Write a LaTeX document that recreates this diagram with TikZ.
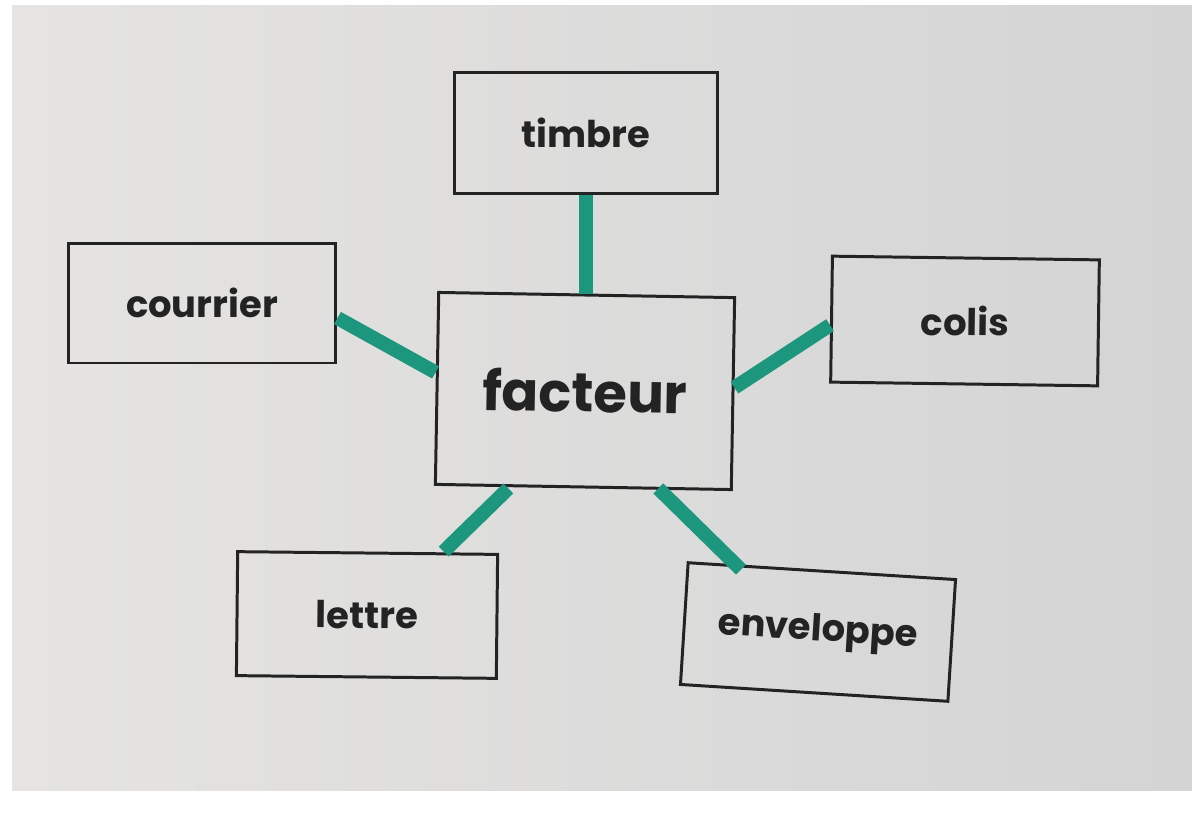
\documentclass[tikz,border=0pt]{standalone}
\usepackage{fontspec}
\setmainfont{Poppins}
\definecolor{linkteal}{RGB}{28,150,124}
\definecolor{paperlight}{RGB}{229,228,226}
\definecolor{paperdark}{RGB}{212,212,213}
\definecolor{inkgray}{RGB}{35,35,35}
\usetikzlibrary{positioning}
\begin{document}
\begin{tikzpicture}[x=0.02cm,y=-0.02cm,
    word/.style={draw=inkgray,line width=1.7pt,inner sep=0pt,font=\fontsize{21}{25}\selectfont\bfseries,text=inkgray},
    hub/.style={word,font=\fontsize{31}{36}\selectfont\bfseries},
    link/.style={linkteal,line width=8pt}]
  \useasboundingbox (0,0) rectangle (1192,815);
  \shade[left color=paperlight,right color=paperdark] (12,5) rectangle (1192,790);
  % the six boxes
  \node[hub,minimum width=5.92cm,minimum height=3.84cm,rotate=-1] (facteur) at (585,391) {facteur};
  \node[word,minimum width=5.26cm,minimum height=2.44cm] (timbre) at (586,133) {timbre};
  \node[word,minimum width=5.36cm,minimum height=2.40cm] (courrier) at (202,303) {courrier};
  \node[word,minimum width=5.34cm,minimum height=2.52cm,rotate=-0.8] (colis) at (965,321) {colis};
  \node[word,minimum width=5.20cm,minimum height=2.48cm,rotate=-0.6] (lettre) at (367,615) {lettre};
  \node[word,minimum width=5.36cm,minimum height=2.44cm,rotate=-3.6] (enveloppe) at (818,632) {enveloppe};
  % connectors
  \draw[link] (timbre.south) -- (timbre.south |- facteur.north);
  \draw[link] ([yshift=-0.3cm]courrier.east) -- ([yshift=0.32cm]facteur.west);
  \draw[link] ([yshift=-0.12cm]colis.west) -- ([yshift=0.12cm]facteur.east);
  \draw[link] ([xshift=1.52cm]lettre.north) -- ([xshift=-1.5cm]facteur.south);
  \draw[link] ([xshift=-1.62cm]enveloppe.north) -- ([xshift=1.5cm]facteur.south);
\end{tikzpicture}
\end{document}
